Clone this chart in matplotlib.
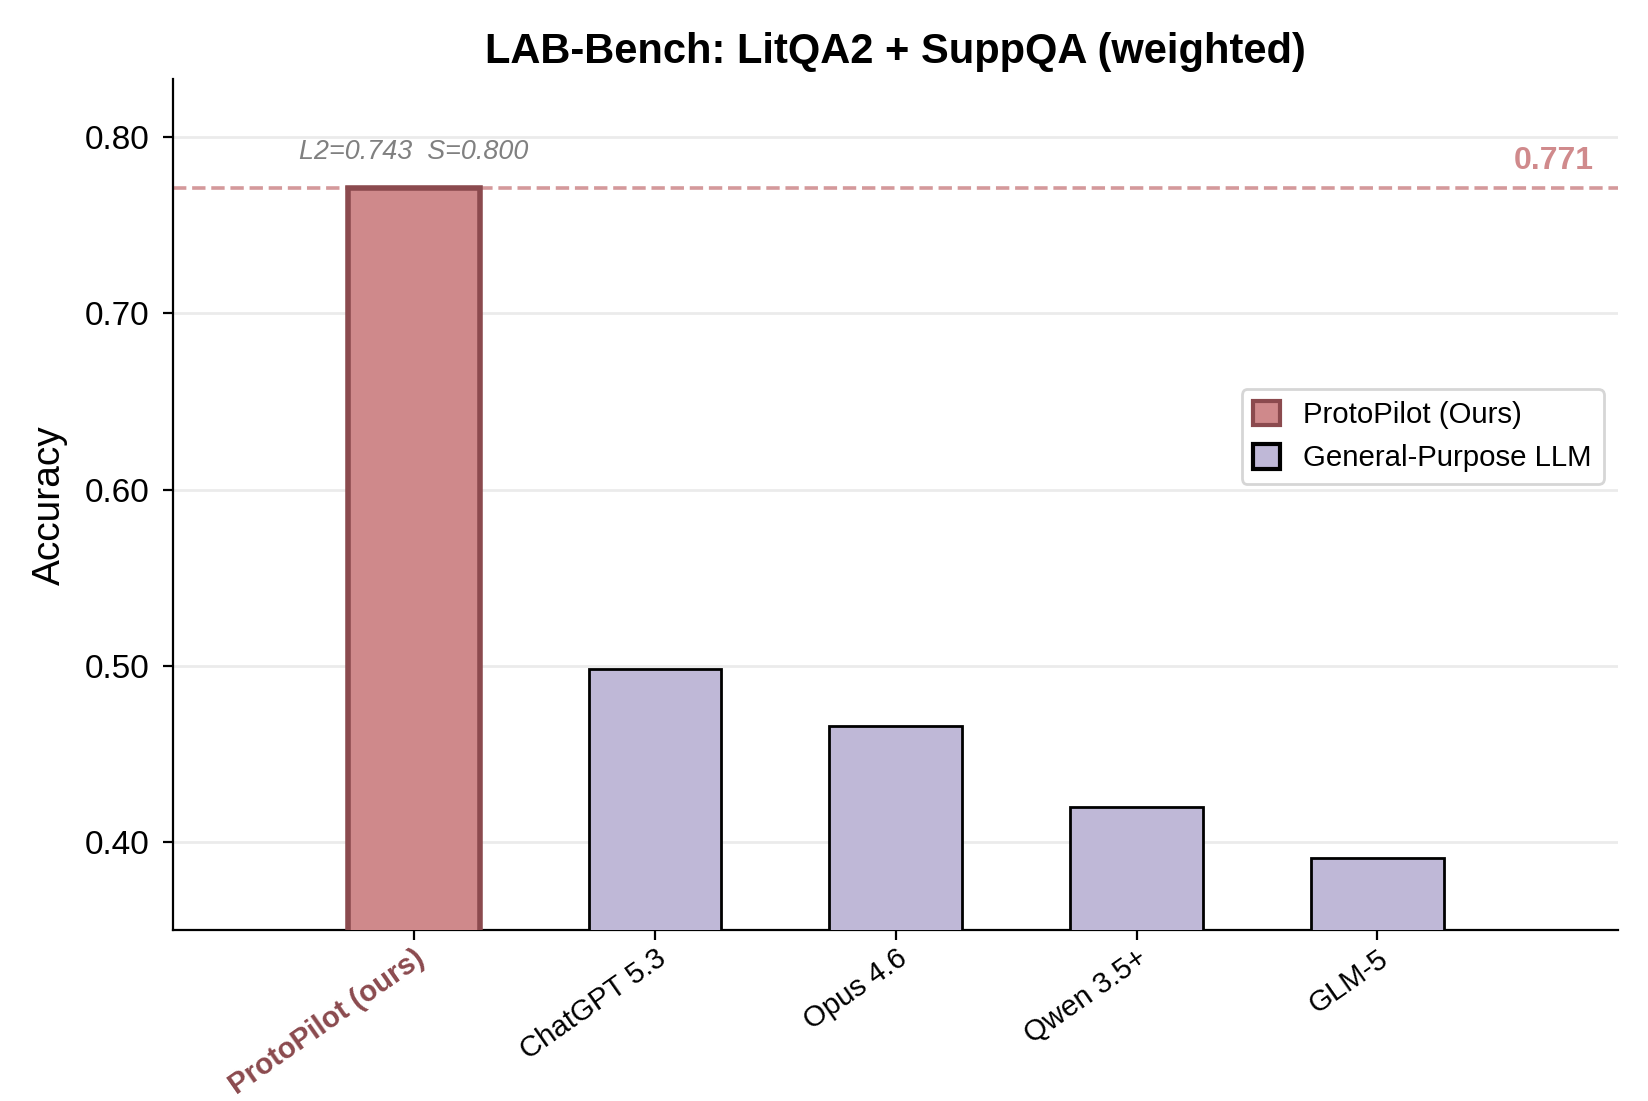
import matplotlib
matplotlib.use("Agg")
import matplotlib.pyplot as plt
from matplotlib.patches import Patch

plt.rcParams['font.family'] = ['Liberation Sans', 'DejaVu Sans']

models = ['ProtoPilot (ours)', 'ChatGPT 5.3', 'Opus 4.6', 'Qwen 3.5+', 'GLM-5']
accuracy = [0.771, 0.498, 0.466, 0.420, 0.391]
litqa2 = 0.743
suppqa = 0.800

ours_face = '#CF898B'
ours_edge = '#8B4A4E'
llm_face = '#BFB8D7'

fig, ax = plt.subplots(figsize=(8.24, 5.505), dpi=200)
fig.subplots_adjust(left=0.105, right=0.982, bottom=0.155, top=0.928)

x = list(range(len(models)))
faces = [ours_face] + [llm_face] * (len(models) - 1)
edges = [ours_edge] + ['black'] * (len(models) - 1)
lws = [2.0] + [1.0] * (len(models) - 1)
ax.bar(x, accuracy, width=0.55, color=faces, edgecolor=edges, linewidth=lws, zorder=3)

best = accuracy[0]
ax.axhline(best, color='#D4999B', linestyle='--', linewidth=1.3, zorder=2)
ax.text(4.9, best + 0.007, f'{best:.3f}', ha='right', va='bottom',
        color='#D08A8C', fontsize=11.5, fontweight='bold')
ax.text(0, best + 0.013, f'L2={litqa2:.3f}  S={suppqa:.3f}', ha='center', va='bottom',
        color='gray', fontsize=9.7, fontstyle='italic')

ax.set_xlim(-1, len(models))
ax.set_ylim(0.35, best * 1.08)
yt = [0.40, 0.50, 0.60, 0.70, 0.80]
ax.set_yticks(yt)
ax.set_yticklabels([f'{v:.2f}' for v in yt])
ax.set_xticks(x)
ax.set_xticklabels(models, rotation=35, ha='right', rotation_mode='anchor', fontsize=10.6)
tl = ax.get_xticklabels()[0]
tl.set_color(ours_edge)
tl.set_fontweight('bold')
ax.tick_params(axis='x', pad=1.5)
ax.tick_params(axis='y', labelsize=12, pad=5)

ax.yaxis.grid(True, color='#EBEBEB', linewidth=1.0, zorder=0)
ax.set_axisbelow(True)
for s in ['top', 'right']:
    ax.spines[s].set_visible(False)

ax.set_ylabel('Accuracy', fontsize=14, labelpad=6)
ax.set_title('LAB-Bench: LitQA2 + SuppQA (weighted)', fontsize=15, fontweight='bold')

handles = [Patch(facecolor=ours_face, edgecolor=ours_edge, linewidth=1.5, label='ProtoPilot (Ours)'),
           Patch(facecolor=llm_face, edgecolor='black', linewidth=1.5, label='General-Purpose LLM')]
ax.legend(handles=handles, loc='center right', bbox_to_anchor=(1.0, 0.58), fontsize=10.6,
          handlelength=0.9, handleheight=0.9)

fig.savefig('out.png', dpi=200)
